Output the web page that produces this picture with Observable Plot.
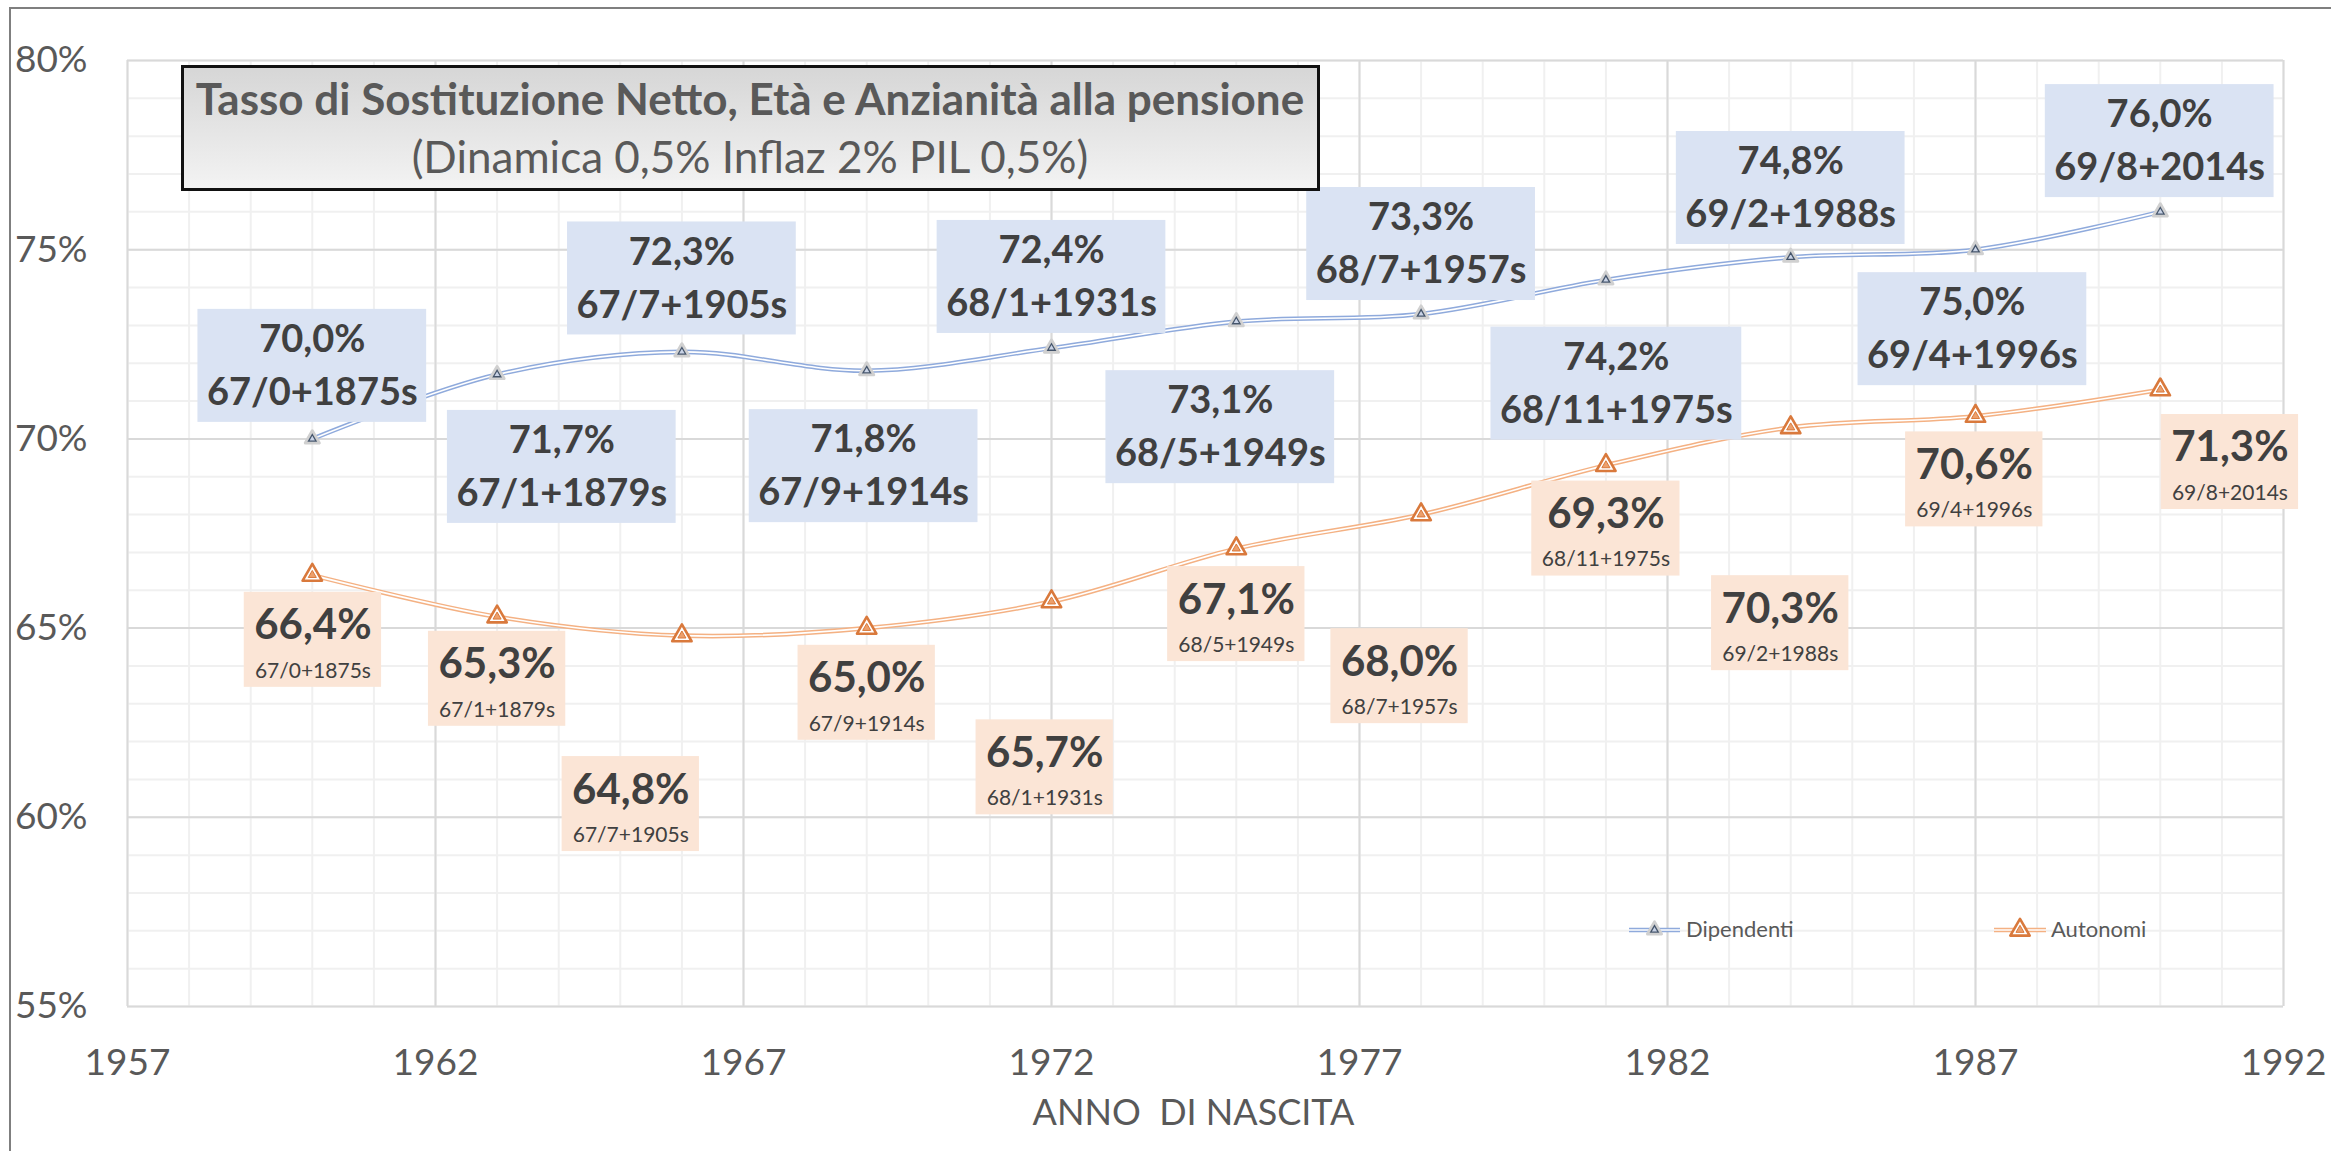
<!DOCTYPE html>
<html><head><meta charset="utf-8">
<script src="https://cdn.jsdelivr.net/npm/d3@7"></script>
<script src="https://cdn.jsdelivr.net/npm/@observablehq/plot@0.6"></script>
<style>
html,body{margin:0;padding:0;background:#fff;}
#wrap{position:relative;width:2331px;height:1151px;overflow:hidden;font-family:Lato,"Noto Sans",sans-serif;}
#wrap svg{position:absolute;left:0;top:0;}
</style></head><body><div id="wrap"></div>
<script>
// ---- data ----
const years = [1960, 1963, 1966, 1969, 1972, 1975, 1978, 1981, 1984, 1987, 1990];
const dipendenti = [70.0, 71.7, 72.3, 71.8, 72.4, 73.1, 73.3, 74.2, 74.8, 75.0, 76.0];
const autonomi = [66.4, 65.3, 64.8, 65.0, 65.7, 67.1, 68.0, 69.3, 70.3, 70.6, 71.3];
const etaAnzianita = ["67/0+1875s","67/1+1879s","67/7+1905s","67/9+1914s","68/1+1931s","68/5+1949s","68/7+1957s","68/11+1975s","69/2+1988s","69/4+1996s","69/8+2014s"];
const seriesNames = ["Dipendenti", "Autonomi"];
const xTicks = [1957, 1962, 1967, 1972, 1977, 1982, 1987, 1992];
const yTicks = [55, 60, 65, 70, 75, 80];
const xMinorTicks = [1957,1958,1959,1960,1961,1962,1963,1964,1965,1966,1967,1968,1969,1970,1971,1972,1973,1974,1975,1976,1977,1978,1979,1980,1981,1982,1983,1984,1985,1986,1987,1988,1989,1990,1991,1992];
const yMinorTicks = [55,56,57,58,59,60,61,62,63,64,65,66,67,68,69,70,71,72,73,74,75,76,77,78,79,80];
const titleText = "Tasso di Sostituzione Netto, Età e Anzianità alla pensione";
const subtitleText = "(Dinamica 0,5% Inflaz 2% PIL 0,5%)";
const xTitle = "ANNO\u00a0 DI NASCITA";

// ---- label placement (as in the reference), in data units ----
const dipLabelX = [1960.0, 1964.05, 1966.0, 1968.95, 1972.0, 1974.74, 1978.0, 1981.17, 1984.0, 1986.95, 1989.99];
const dipLabelY = [71.93, 69.26, 74.24, 69.28, 74.28, 70.31, 75.15, 71.46, 76.63, 72.90, 77.87];
const autLabelX = [1960.01, 1963.0, 1965.17, 1969.0, 1971.89, 1975.0, 1977.65, 1981.0, 1983.83, 1986.98, 1991.13];
const autLabelY = [64.69, 63.66, 60.35, 63.29, 61.32, 65.37, 63.73, 67.63, 65.13, 68.93, 69.39];

// ---- styles ----
const dipColor = "#8faadc", autColor = "#f4b183";
const textDark = "#404040", axisGray = "#595959";
const FONT = "Lato, 'Noto Sans', sans-serif";

const fmt = v => v.toFixed(1).replace(".", ",") + "%";
const dipRows = years.map((year, i) => ({year, v: dipendenti[i], lx: dipLabelX[i], ly: dipLabelY[i], t1: fmt(dipendenti[i]), t2: etaAnzianita[i]}));
const autRows = years.map((year, i) => ({year, v: autonomi[i], lx: autLabelX[i], ly: autLabelY[i], t1: fmt(autonomi[i]), t2: etaAnzianita[i]}));

const chart = Plot.plot({
  width: 2331, height: 1151,
  marginLeft: 127, marginRight: 48, marginTop: 60, marginBottom: 145,
  style: {fontFamily: FONT, background: "transparent", overflow: "visible"},
  x: {domain: [1957, 1992], label: null},
  y: {domain: [55, 80], label: null},
  marks: [
    Plot.gridX(xMinorTicks, {stroke: "#f0f0f0", strokeOpacity: 1, strokeWidth: 2}),
    Plot.gridY(yMinorTicks, {stroke: "#f0f0f0", strokeOpacity: 1, strokeWidth: 2}),
    Plot.gridX(xTicks, {stroke: "#d9d9d9", strokeOpacity: 1, strokeWidth: 2}),
    Plot.gridY(yTicks, {stroke: "#d9d9d9", strokeOpacity: 1, strokeWidth: 2}),
    Plot.axisX(xTicks, {tickSize: 0, tickPadding: 42, fontSize: 37, fill: axisGray, tickFormat: d => String(d)}),
    Plot.axisY(yTicks, {tickSize: 0, tickPadding: 40, fontSize: 37, fill: axisGray, tickFormat: d => d + "%"}),
    Plot.text([xTitle], {frameAnchor: "bottom", dy: 118, dx: -12, lineAnchor: "bottom", fontSize: 36, fill: axisGray}),
    // double lines
    Plot.line(dipRows, {x: "year", y: "v", curve: "catmull-rom", stroke: dipColor, strokeWidth: 4.6}),
    Plot.line(dipRows, {x: "year", y: "v", curve: "catmull-rom", stroke: "white", strokeWidth: 1.6}),
    Plot.line(autRows, {x: "year", y: "v", curve: "catmull-rom", stroke: autColor, strokeWidth: 4.6}),
    Plot.line(autRows, {x: "year", y: "v", curve: "catmull-rom", stroke: "white", strokeWidth: 1.6}),
    // markers
    Plot.dot(dipRows, {x: "year", y: "v", symbol: "triangle", r: 5.2, fill: "white", stroke: "#d0d0d0", strokeWidth: 3, strokeLinejoin: "round"}),
    Plot.dot(dipRows, {x: "year", y: "v", symbol: "triangle", r: 2.8, fill: "#c9d3e6", stroke: "#44546a", strokeWidth: 1.3}),
    Plot.dot(autRows, {x: "year", y: "v", symbol: "triangle", r: 7.2, fill: "white", stroke: "#d9793c", strokeWidth: 2.6, strokeLinejoin: "round"}),
    Plot.dot(autRows, {x: "year", y: "v", symbol: "triangle", r: 3, fill: "#eda06c", stroke: "#d9793c", strokeWidth: 1}),
    // labels
    Plot.text(dipRows, {x: "lx", y: "ly", text: "t1", dy: -26, fontSize: 38, fontWeight: "bold", fill: textDark, ariaDescription: "dip-l1"}),
    Plot.text(dipRows, {x: "lx", y: "ly", text: "t2", dy: 27, fontSize: 38, fontWeight: "bold", fill: textDark, ariaDescription: "dip-l2"}),
    Plot.text(autRows, {x: "lx", y: "ly", text: "t1", dy: -14, fontSize: 42, fontWeight: "bold", fill: textDark, ariaDescription: "aut-l1"}),
    Plot.text(autRows, {x: "lx", y: "ly", text: "t2", dy: 31, fontSize: 21, fill: textDark, ariaDescription: "aut-l2"})
  ]
});

const wrap = document.getElementById("wrap");
wrap.appendChild(chart);

// find the label text groups (by description, falling back to order of text marks)
const textGroups = Array.from(chart.querySelectorAll('g[aria-label="text"]'));
function groupFor(desc, k) {
  return chart.querySelector(`g[aria-description="${desc}"]`) || textGroups[textGroups.length - 4 + k];
}
const gDip1 = groupFor("dip-l1", 0), gDip2 = groupFor("dip-l2", 1), gAut1 = groupFor("aut-l1", 2), gAut2 = groupFor("aut-l2", 3);

// label background boxes, sized from the rendered texts
const sx = chart.scale("x"), sy = chart.scale("y");
const X = d3.scaleLinear(sx.domain, sx.range), Y = d3.scaleLinear(sy.domain, sy.range);
function boxes(rows, ga, gb, pad, h, fill) {
  const t1 = ga.querySelectorAll("text");
  const t2 = gb.querySelectorAll("text");
  const g = d3.create("svg:g");
  rows.forEach((r, i) => {
    const w1 = t1[i] ? t1[i].getComputedTextLength() : 0;
    const w2 = t2[i] ? t2[i].getComputedTextLength() : 0;
    const w = Math.max(w1, w2) + 2 * pad;
    g.append("rect").attr("x", X(r.lx) - w / 2).attr("y", Y(r.ly) - h / 2)
      .attr("width", w).attr("height", h).attr("fill", fill);
  });
  return g.node();
}
const parent = gDip1.parentNode;
parent.insertBefore(boxes(dipRows, gDip1, gDip2, 9, 113, "#dae3f3"), gDip1);
parent.insertBefore(boxes(autRows, gAut1, gAut2, 10, 95, "#fbe5d6"), gDip1);

// overlay: frame, title box, legend
const ov = d3.select(wrap).append("svg").attr("width", 2331).attr("height", 1151)
  .style("pointer-events", "none").attr("font-family", FONT);
ov.append("path").attr("d", "M10,1151V8H2331").attr("fill", "none").attr("stroke", "#7f7f7f").attr("stroke-width", 2);
const grad = ov.append("defs").append("linearGradient").attr("id", "tg").attr("x1", 0).attr("y1", 0).attr("x2", 0).attr("y2", 1);
grad.append("stop").attr("offset", "0%").attr("stop-color", "#d6d6d6");
grad.append("stop").attr("offset", "100%").attr("stop-color", "#f3f3f3");
ov.append("rect").attr("x", 182.5).attr("y", 66.5).attr("width", 1136).attr("height", 123)
  .attr("fill", "url(#tg)").attr("stroke", "#111").attr("stroke-width", 3);
ov.append("text").attr("x", 750).attr("y", 115).attr("text-anchor", "middle").attr("font-size", 44)
  .attr("font-weight", "bold").attr("fill", axisGray).text(titleText);
ov.append("text").attr("x", 750).attr("y", 173).attr("text-anchor", "middle").attr("font-size", 44)
  .attr("fill", axisGray).text(subtitleText);

const sym = d3.symbol(d3.symbolTriangle);
const legendItems = [
  {name: seriesNames[0], x0: 1629, x1: 1680, tx: 1686, color: dipColor, dip: true},
  {name: seriesNames[1], x0: 1994, x1: 2046, tx: 2051, color: autColor, dip: false}
];
legendItems.forEach(it => {
  const cy = 930, cx = (it.x0 + it.x1) / 2;
  ov.append("line").attr("x1", it.x0).attr("x2", it.x1).attr("y1", cy).attr("y2", cy).attr("stroke", it.color).attr("stroke-width", 4.6);
  ov.append("line").attr("x1", it.x0).attr("x2", it.x1).attr("y1", cy).attr("y2", cy).attr("stroke", "white").attr("stroke-width", 1.6);
  if (it.dip) {
    ov.append("path").attr("transform", `translate(${cx},${cy})`).attr("d", sym.size(Math.PI * 5.2 * 5.2)()).attr("fill", "white").attr("stroke", "#d0d0d0").attr("stroke-width", 3).attr("stroke-linejoin", "round");
    ov.append("path").attr("transform", `translate(${cx},${cy})`).attr("d", sym.size(Math.PI * 2.8 * 2.8)()).attr("fill", "#c9d3e6").attr("stroke", "#44546a").attr("stroke-width", 1.3);
  } else {
    ov.append("path").attr("transform", `translate(${cx},${cy})`).attr("d", sym.size(Math.PI * 7.2 * 7.2)()).attr("fill", "white").attr("stroke", "#d9793c").attr("stroke-width", 2.6).attr("stroke-linejoin", "round");
    ov.append("path").attr("transform", `translate(${cx},${cy})`).attr("d", sym.size(Math.PI * 3 * 3)()).attr("fill", "#eda06c").attr("stroke", "#d9793c").attr("stroke-width", 1);
  }
  ov.append("text").attr("x", it.tx).attr("y", 937).attr("font-size", 22).attr("fill", axisGray).text(it.name);
});
</script></body></html>
